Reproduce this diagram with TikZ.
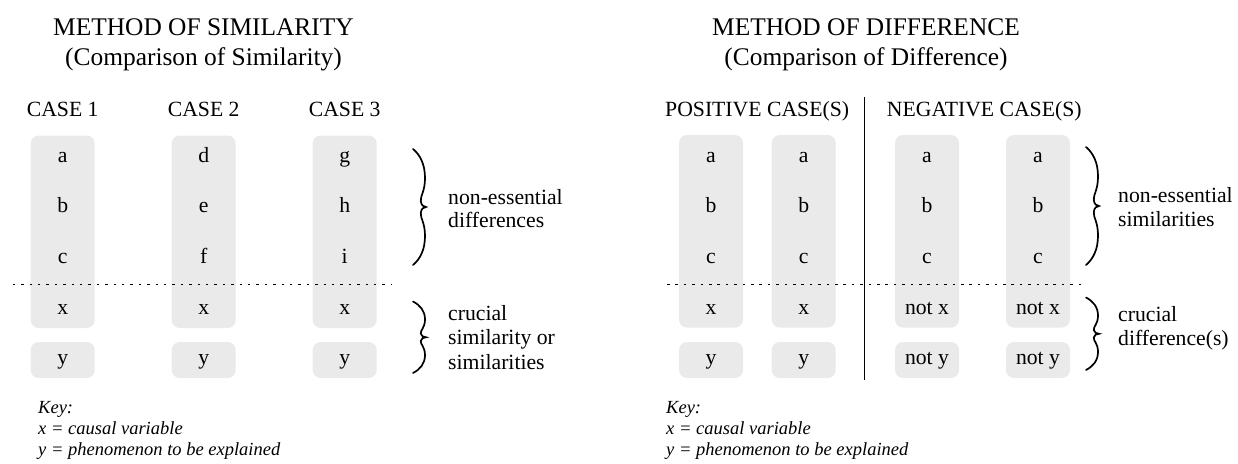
\documentclass[tikz,border=0pt]{standalone}
\usepackage{fontspec}
\setmainfont{Liberation Serif}
\definecolor{boxgray}{RGB}{234,234,234}
\newcommand\titlesize{\fontsize{25.4}{29}\selectfont}
\newcommand\bodysize{\fontsize{21.7}{24}\selectfont}
\newcommand\keysize{\fontsize{18.5}{21}\selectfont\itshape}
% curly brace: x of the open side, top y, bottom y (y grows downward)
\newcommand\curlybrace[3]{%
  \begin{scope}[shift={(#1,#2)}, yscale={#3-#2}]
    \draw[bracepen] (0,0) .. controls (7,0.05) and (12,0.13) .. (12,0.25)
      .. controls (12,0.37) and (7.2,0.40) .. (7.8,0.45)
      .. controls (8.3,0.485) and (10.5,0.5) .. (13,0.5)
      .. controls (10.5,0.5) and (8.3,0.515) .. (7.8,0.55)
      .. controls (7.2,0.60) and (12,0.63) .. (12,0.75)
      .. controls (12,0.87) and (7,0.95) .. (0,1);
  \end{scope}}
\begin{document}
\begin{tikzpicture}[x=1pt, y=-1pt,
  bracepen/.style={line width=1.7pt, line cap=round},
  bigcell/.style={fill=boxgray, rounded corners=8pt, inner sep=0pt,
    minimum width=64pt, minimum height=192.5pt},
  smallcell/.style={fill=boxgray, rounded corners=8pt, inner sep=0pt,
    minimum width=64pt, minimum height=36pt},
  entry/.style={font=\bodysize, anchor=base, inner sep=0pt},
  heading/.style={font=\titlesize, anchor=base, inner sep=0pt},
  sidetext/.style={font=\bodysize, anchor=base west, inner sep=0pt},
  keytext/.style={font=\keysize, anchor=base west, inner sep=0pt},
  dotline/.style={line width=1.5pt, dash pattern=on 2.5pt off 5.9pt},
  divider/.style={line width=1.6pt}]
\useasboundingbox (0,0) rectangle (1238,463);

% ---------------- Method of similarity ----------------
\node[heading] (simT) at (203.5,35) {METHOD OF SIMILARITY};
\node[heading] (simS) at (203.5,65) {(Comparison of Similarity)};

\foreach \cx/\n/\la/\lb/\lc in {62.7/1/a/b/c, 203.7/2/d/e/f, 344.7/3/g/h/i} {
  \node[entry] (case\n) at (\cx,116) {CASE \n};
  \node[bigcell] (sbox\n) at (\cx,231.75) {};
  \node[smallcell] (sy\n) at (\cx,360) {};
  \node[entry] (s\n a) at (\cx,162) {\la};
  \node[entry] (s\n b) at (\cx,212.5) {\lb};
  \node[entry] (s\n c) at (\cx,263) {\lc};
  \node[entry] (s\n x) at (\cx,314) {x};
  \node[entry] (s\n y) at (\cx,364) {y};
}

\coordinate (sdotA) at (12.7,284.3);
\coordinate (sdotB) at (391,284.3);
\draw[dotline] (sdotA) -- (sdotB);

\curlybrace{413}{149}{265}
\curlybrace{413}{301.5}{373}

\node[sidetext] (sne1) at (448,204) {non-essential};
\node[sidetext] (sne2) at (448,227.5) {differences};
\node[sidetext] (scr1) at (448,320) {crucial};
\node[sidetext] (scr2) at (448,344.5) {similarity or};
\node[sidetext] (scr3) at (448,369) {similarities};

\node[keytext] (skey1) at (38,413) {Key:};
\node[keytext] (skey2) at (38,434) {x = causal variable};
\node[keytext] (skey3) at (38,455) {y = phenomenon to be explained};

% ---------------- Method of difference ----------------
\node[heading] (difT) at (866,35) {METHOD OF DIFFERENCE};
\node[heading] (difS) at (866,65) {(Comparison of Difference)};

\node[sidetext] (poscase) at (665,116) {POSITIVE CASE(S)};
\node[sidetext] (negcase) at (886.7,116) {NEGATIVE CASE(S)};

\coordinate (divTop) at (864.3,97);
\coordinate (divBot) at (864.3,380);
\draw[divider] (divTop) -- (divBot);

\foreach \cx/\n/\vx/\vy in {711/1/x/y, 803.7/2/x/y, 927/3/not x/not y, 1038/4/not x/not y} {
  \node[bigcell] (dbox\n) at (\cx,231.25) {};
  \node[smallcell] (dy\n) at (\cx,360) {};
  \node[entry] (d\n a) at (\cx,162) {a};
  \node[entry] (d\n b) at (\cx,212.5) {b};
  \node[entry] (d\n c) at (\cx,263) {c};
  \node[entry] (d\n x) at (\cx,314) {\vx};
  \node[entry] (d\n y) at (\cx,364) {\vy};
}

\coordinate (ddotA) at (667,284.3);
\coordinate (ddotB) at (1083,284.3);
\draw[dotline] (ddotA) -- (ddotB);

\curlybrace{1086}{147}{265}
\curlybrace{1086}{297.5}{370}

\node[sidetext] (dne1) at (1118,202) {non-essential};
\node[sidetext] (dne2) at (1118,226.5) {similarities};
\node[sidetext] (dcr1) at (1118,321.5) {crucial};
\node[sidetext] (dcr2) at (1118,345.5) {difference(s)};

\node[keytext] (dkey1) at (666,413) {Key:};
\node[keytext] (dkey2) at (666,434) {x = causal variable};
\node[keytext] (dkey3) at (666,455) {y = phenomenon to be explained};
\end{tikzpicture}
\end{document}
